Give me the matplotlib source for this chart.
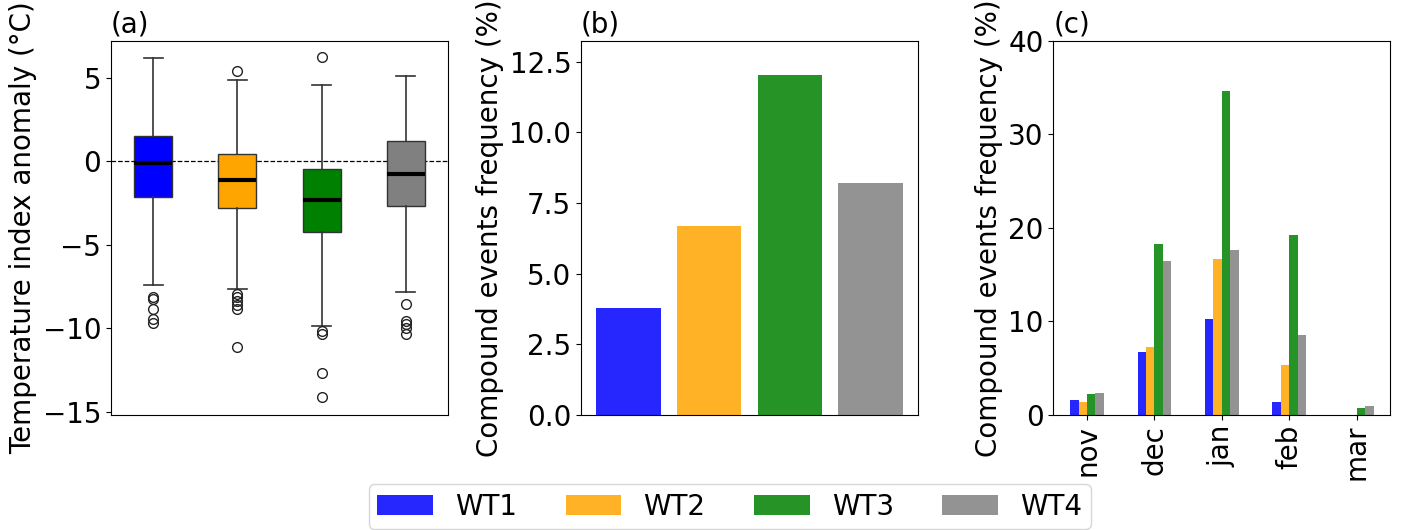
import matplotlib
matplotlib.use("Agg")
import matplotlib.pyplot as plt
import numpy as np
from matplotlib.patches import Patch

plt.rcParams["font.family"] = ["DejaVu Sans"]
plt.rcParams["font.size"] = 20

# Weather types and colours
types = ["WT1", "WT2", "WT3", "WT4"]
colors = ["blue", "orange", "green", "gray"]

# (a) temperature index anomaly box statistics per weather type
box_q1 = [-2.14, -2.83, -4.23, -2.67]
box_med = [-0.12, -1.14, -2.30, -0.76]
box_q3 = [1.52, 0.46, -0.48, 1.20]
box_whislo = [-7.39, -7.66, -9.88, -7.84]
box_whishi = [6.19, 4.89, 4.59, 5.11]
box_fliers = [
    [-8.14, -8.28, -8.88, -9.48, -9.68],
    [5.43, -7.98, -8.14, -8.38, -8.64, -8.88, -11.1],
    [6.25, -10.18, -10.34, -12.67, -14.13],
    [-8.58, -9.58, -9.78, -9.98, -10.34],
]

# (b) overall compound events frequency (%)
freq_total = [3.80, 6.67, 12.03, 8.20]

# (c) monthly compound events frequency (%)
months = ["nov", "dec", "jan", "feb", "mar"]
freq_month = {
    "WT1": [1.6, 6.7, 10.25, 1.36, 0.0],
    "WT2": [1.36, 7.3, 16.7, 5.3, 0.0],
    "WT3": [2.2, 18.3, 34.6, 19.2, 0.8],
    "WT4": [2.4, 16.5, 17.6, 8.6, 0.96],
}

fig = plt.figure(figsize=(14.02, 5.30), dpi=100)
ax_a = fig.add_axes([0.0792, 0.217, 0.2404, 0.7057])
ax_b = fig.add_axes([0.4144, 0.217, 0.2404, 0.7057])
ax_c = fig.add_axes([0.7513, 0.217, 0.2404, 0.7057])

# ---- (a) boxplots
stats = []
for i, t in enumerate(types):
    stats.append(dict(label=t, q1=box_q1[i], med=box_med[i], q3=box_q3[i],
                      whislo=box_whislo[i], whishi=box_whishi[i],
                      fliers=box_fliers[i]))
bp = ax_a.bxp(stats, positions=[1, 2, 3, 4], widths=0.45, patch_artist=True,
              medianprops=dict(color="black", linewidth=3),
              whiskerprops=dict(color="#333333", linewidth=1.2),
              capprops=dict(color="#333333", linewidth=1.2),
              flierprops=dict(marker="o", markerfacecolor="none",
                              markeredgecolor="#222222", markersize=7))
for patch, c in zip(bp["boxes"], colors):
    patch.set_facecolor(c)
    patch.set_edgecolor("#333333")
ax_a.axhline(0, color="black", linestyle="--", linewidth=0.9, zorder=0)
ax_a.set_xlim(0.5, 4.5)
ax_a.set_ylim(-15.2, 7.2)
ax_a.set_yticks([5, 0, -5, -10, -15])
ax_a.set_xticks([])
ax_a.set_ylabel("Temperature index anomaly (°C)")
ax_a.set_title("(a)", loc="left", fontsize=20)

# ---- (b) total frequency
xb = np.arange(len(types))
ax_b.bar(xb, freq_total, width=0.8, color=colors, alpha=0.85)
ax_b.set_ylim(0, max(freq_total) * 1.1)
ax_b.set_yticks([0, 2.5, 5, 7.5, 10, 12.5])
ax_b.set_yticklabels(["0.0", "2.5", "5.0", "7.5", "10.0", "12.5"])
ax_b.set_xticks([])
ax_b.set_ylabel("Compound events frequency (%)")
ax_b.set_title("(b)", loc="left", fontsize=20)

# ---- (c) monthly frequency, grouped bars
xc = np.arange(len(months))
bw = 0.125
for i, (t, c) in enumerate(zip(types, colors)):
    ax_c.bar(xc + (i - 1.5) * bw, freq_month[t], width=bw, color=c, alpha=0.85)
ax_c.set_xlim(-0.5, len(months) - 0.5)
ax_c.set_ylim(0, 40)
ax_c.set_yticks([0, 10, 20, 30, 40])
ax_c.set_xticks(xc)
ax_c.set_xticklabels(months, rotation=90)
ax_c.set_ylabel("Compound events frequency (%)")
ax_c.set_title("(c)", loc="left", fontsize=20)

# Shared legend
handles = [Patch(facecolor=c, alpha=0.85, label=t) for t, c in zip(types, colors)]
fig.legend(handles=handles, loc="lower center", ncol=4,
           bbox_to_anchor=(0.5205, 0.002), fontsize=20,
           borderaxespad=0.0, borderpad=0.3, columnspacing=1.75)

fig.savefig("out.png", dpi=100)
